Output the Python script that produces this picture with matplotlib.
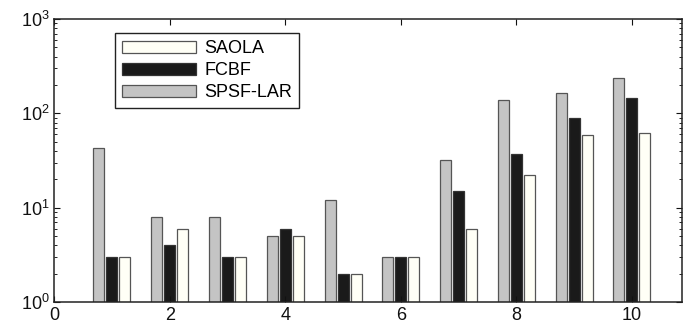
import numpy as np
import matplotlib
matplotlib.use('Agg')
import matplotlib.pyplot as plt

plt.rcParams['font.family'] = ['Liberation Sans', 'DejaVu Sans']
plt.rcParams['mathtext.fontset'] = 'custom'
plt.rcParams['mathtext.rm'] = 'Liberation Sans'
plt.rcParams['mathtext.it'] = 'Liberation Sans'

groups = np.arange(1, 11)
spsf_lar = [43, 8, 8, 5, 12, 3, 32, 137, 163, 235]
fcbf = [3, 4, 3, 6, 2, 3, 15, 37, 90, 145]
saola = [3, 6, 3, 5, 2, 3, 6, 22, 59, 62]

fig = plt.figure(figsize=(6.85, 3.28), dpi=100)
ax = fig.add_axes([0.079, 0.079, 0.917, 0.863])

w = 0.19
off = 0.225
b1 = ax.bar(groups - off, spsf_lar, w, color='#c4c4c4', edgecolor='#555555', linewidth=0.9)
b2 = ax.bar(groups, fcbf, w, color='#1a1a1a', edgecolor='#333333', linewidth=0.9)
b3 = ax.bar(groups + off, saola, w, color='#fffff6', edgecolor='#555555', linewidth=0.9)

ax.set_yscale('log')
ax.set_ylim(1, 1000)
ax.set_xlim(0, 10.87)
ax.set_xticks([0, 2, 4, 6, 8, 10])
ax.tick_params(direction='in', top=True, right=True, labelsize=13, length=4, colors='#111111')
ax.tick_params(which='minor', direction='in', top=True, right=True, length=2)
for s in ax.spines.values():
    s.set_linewidth(1.1)
    s.set_color('#222222')

leg = ax.legend([b3, b2, b1], ['SAOLA', 'FCBF', 'SPSF-LAR'], loc='upper left',
                bbox_to_anchor=(0.097, 0.95), borderaxespad=0, fontsize=13,
                handlelength=4.1, handleheight=0.67, handletextpad=0.45,
                fancybox=False, framealpha=1, edgecolor='#222222',
                borderpad=0.38, labelspacing=0.28)
leg.get_frame().set_linewidth(1.0)

fig.savefig('out.png', dpi=100)
